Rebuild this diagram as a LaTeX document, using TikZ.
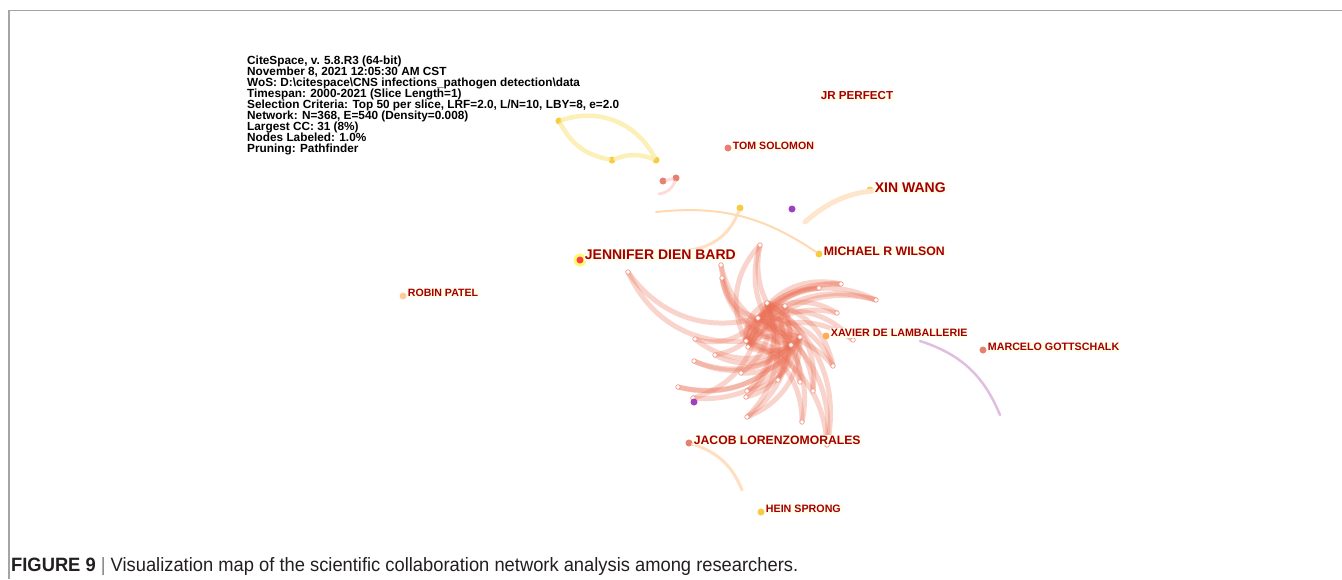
\documentclass[tikz,border=0pt]{standalone}
\usepackage{fontspec}
\setmainfont{Liberation Sans}
\setsansfont{Liberation Sans}
\newfontfamily\capfont{Liberation Sans}[FakeStretch=0.95]
\usepackage{tikz}
\usetikzlibrary{positioning}
\definecolor{labred}{RGB}{165,0,0}
\definecolor{labcream}{RGB}{255,253,236}
\definecolor{linkred}{RGB}{234,112,86}
\definecolor{dotyellow}{RGB}{248,204,64}
\definecolor{dotsalmon}{RGB}{232,128,112}
\definecolor{dotpurple}{RGB}{160,64,192}
\definecolor{paleyellow}{RGB}{252,236,170}
\definecolor{framegray}{RGB}{165,165,165}
\definecolor{captext}{RGB}{35,31,32}
\newcommand\infofont{\bfseries\fontsize{11.8}{11}\selectfont\lineskiplimit=-6pt\relax}
\tikzstyle{lab} = [fill=labcream, text=labred, inner sep=1pt, font=\bfseries\fontsize{#1}{#1}\selectfont]
\tikzstyle{dot} = [circle, inner sep=0pt, minimum size=7pt, fill=#1]
\tikzstyle{vert} = [circle, draw=linkred!70, fill=white, line width=0.7pt, inner sep=0pt, minimum size=4.5pt]
\tikzstyle{link} = [draw=linkred, line width=5pt, opacity=0.3, bend left=35]
\tikzstyle{soft} = [line width=#1, line cap=round]

\begin{document}
\begin{tikzpicture}[yscale=-1, x=1pt, y=1pt]
			\useasboundingbox (0,0) rectangle (1342,579);
			% frame
			\draw[framegray, line width=1.2pt] (9,579) -- (9,10.5) -- (1342,10.5);
			% run info
			\node (info) at (247,56)[below right, inner sep=0pt, align=left, font=\infofont]{CiteSpace, v. 5.8.R3 (64-bit)\\November 8, 2021 12:05:30 AM CST\\WoS: D:\textbackslash citespace\textbackslash CNS infections\_pathogen detection\textbackslash data\\Timespan: 2000-2021 (Slice Length=1)\\Selection Criteria: Top 50 per slice, LRF=2.0, L/N=10, LBY=8, e=2.0\\Network: N=368, E=540 (Density=0.008)\\Largest CC: 31 (8\%)\\Nodes Labeled: 1.0\%\\Pruning: Pathfinder};
			% main cluster
			\foreach \i/\p in {1/{628,272},2/{760,245},3/{721,265},4/{722,278},5/{841,284},6/{819,288},7/{876,300},8/{767,303},9/{785,306},10/{837,313},11/{758,318},12/{800,337},13/{853,340},14/{695,339},15/{746,341},16/{748,347},17/{791,345},18/{715,355},19/{694,361},20/{833,366},21/{741,373},22/{778,380},23/{800,382},24/{813,391},25/{678,387},26/{747,391},27/{746,397},28/{693,398},29/{747,417},30/{802,422},31/{827,445}}
				\coordinate (c\i) at (\p);
			\foreach \a/\b in {1/11,1/15,2/15,2/17,2/12,3/17,3/12,4/17,4/11,5/15,5/11,5/16,6/15,6/16,7/15,7/11,7/16,9/15,9/17,10/11,10/16,13/11,13/15,14/17,14/11,16/12,16/8,18/17,18/8,19/17,19/12,20/11,20/8,20/15,21/8,21/12,22/11,22/8,23/11,23/15,24/8,24/11,25/17,25/12,26/8,26/12,27/17,27/8,28/12,28/11,29/8,29/12,29/9,30/15,30/11,31/15,31/8,31/11,11/15,15/17,17/8,8/12,12/11,8/15}
				\draw[link] (c\a) to (c\b);
			\foreach \i in {1,...,31}
				\node[vert] at (c\i) {};
			% yellow triad
			\node[dot=dotyellow] (y1) at (559,121) {};
			\node[dot=dotyellow] (y2) at (612,160) {};
			\node[dot=dotyellow] (y3) at (656,160) {};
			\draw[soft=4.5pt, paleyellow, opacity=0.85] (y1) to[bend right=40] (y3);
			\draw[soft=4.5pt, paleyellow, opacity=0.85] (y1) to[bend left=25] (y2);
			\draw[soft=4.5pt, paleyellow, opacity=0.85] (y2) to[bend right=20] (y3);
			% small pink pair
			\node[dot=dotsalmon] (p1) at (663,181) {};
			\node[dot=dotsalmon] (p2) at (676,178) {};
			\coordinate (p0) at (659,194);
			\draw[soft=3pt, red!20, opacity=0.7] (p0) to[bend left=30] (p2);
			\draw[soft=3pt, red!20, opacity=0.7] (p1) -- (p2);
			% loose links
			\node[dot=dotyellow] (yd) at (740,208) {};
			\coordinate (yde) at (690,250);
			\draw[soft=3pt, orange!25] (yd) to[bend right=30] (yde);
			\node[dot=dotpurple] (pu1) at (792,209) {};
			\node[dot=dotpurple] (pu2) at (694,402) {};
			% labelled authors
			\node[dot=dotyellow] (mwil) at (819,254) {};
			\coordinate (mws) at (656,212);
			\draw[soft=2pt, orange!30] (mws) to[bend right=20] (mwil);
			\node[dot=dotyellow] (xin) at (870,190) {};
			\coordinate (xins) at (805,222);
			\coordinate (xine) at (888,190);
			\draw[soft=5pt, orange!20] (xins) to[bend right=20] (xine);
			\coordinate (ma) at (920,341);
			\coordinate (mb) at (1000,415);
			\draw[soft=2.5pt, violet!25] (ma) to[bend right=25] (mb);
			\node[dot=dotsalmon] (jac) at (689,443) {};
			\coordinate (jace) at (742,490);
			\draw[soft=3pt, orange!25] (jac) to[bend right=25] (jace);
			\node[circle, fill=yellow!70, opacity=0.8, minimum size=13pt, inner sep=0pt] (jenh) at (580,260) {};
			\node[dot=red!75] (jen) at (580,260) {};
			\node[dot=dotsalmon] (tom) at (728,148) {};
			\node[dot=orange!40] (rob) at (403,296) {};
			\node[dot=orange!65] (xav) at (826,336) {};
			\node[dot=dotsalmon] (marc) at (983,350) {};
			\node[dot=dotyellow] (hein) at (761,512) {};
			\node[lab=14, right=0pt of jen, yshift=5pt] {JENNIFER DIEN BARD};
			\node[lab=14, right=0pt of xin, yshift=2pt] {XIN WANG};
			\node[lab=12.3, right=0pt of mwil, yshift=3pt] {MICHAEL R WILSON};
			\node[lab=12.2, right=0pt of jac, yshift=3pt] {JACOB LORENZOMORALES};
			\node[lab=10.7, right=0pt of xav, yshift=3pt] {XAVIER DE LAMBALLERIE};
			\node[lab=10.7, right=0pt of marc, yshift=3pt] {MARCELO GOTTSCHALK};
			\node[lab=10.6, right=0pt of tom, yshift=2pt] {TOM SOLOMON};
			\node[lab=10.6, right=0pt of rob, yshift=3pt] {ROBIN PATEL};
			\node[lab=10.7, right=0pt of hein, yshift=3pt] {HEIN SPRONG};
			\node[lab=11.6] (jrp) at (857,96) {JR PERFECT};
			% caption
			\node (cap) at (11,571)[anchor=base west, inner sep=0pt, text=captext, font=\capfont\fontsize{19.3}{22}\selectfont]{\textbf{FIGURE 9}\ {\color{gray}|}\ Visualization map of the scientific collaboration network analysis among researchers.};
		\end{tikzpicture}
\end{document}
